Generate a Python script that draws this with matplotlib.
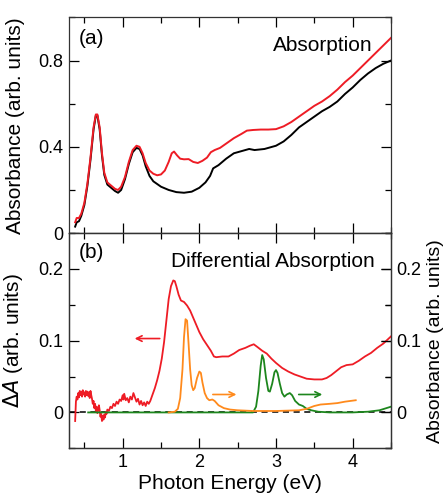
import matplotlib
matplotlib.use("Agg")
import matplotlib.pyplot as plt
from matplotlib.ticker import MultipleLocator

plt.rcParams['font.family'] = ['Liberation Sans', 'DejaVu Sans']

# (a) absorption spectra
abs_black_x = [0.38, 0.40, 0.43, 0.46, 0.50, 0.54, 0.58, 0.62, 0.65, 0.67, 0.70, 0.73, 0.76, 0.80, 0.85,
               0.90, 0.94, 0.98, 1.03, 1.08, 1.13, 1.18, 1.22, 1.26, 1.30, 1.35, 1.40, 1.50, 1.60, 1.70,
               1.80, 1.90, 2.00, 2.08, 2.14, 2.18, 2.25, 2.35, 2.45, 2.55, 2.65, 2.72, 2.85, 3.00, 3.10,
               3.20, 3.30, 3.40, 3.50, 3.60, 3.70, 3.80, 3.90, 4.00, 4.10, 4.20, 4.30, 4.40, 4.50]
abs_black_y = [0.03, 0.05, 0.055, 0.08, 0.13, 0.22, 0.34, 0.48, 0.545, 0.545, 0.48, 0.36, 0.27, 0.225, 0.21,
               0.195, 0.187, 0.20, 0.25, 0.32, 0.375, 0.395, 0.39, 0.36, 0.31, 0.265, 0.24, 0.215, 0.20, 0.19,
               0.187, 0.192, 0.21, 0.235, 0.265, 0.30, 0.315, 0.345, 0.37, 0.38, 0.39, 0.385, 0.39, 0.405, 0.425,
               0.455, 0.49, 0.515, 0.54, 0.565, 0.585, 0.61, 0.645, 0.675, 0.71, 0.74, 0.765, 0.785, 0.80]

abs_red_x = [0.38, 0.40, 0.43, 0.46, 0.50, 0.54, 0.58, 0.62, 0.65, 0.67, 0.70, 0.73, 0.76, 0.80, 0.85,
             0.90, 0.94, 0.98, 1.03, 1.08, 1.13, 1.18, 1.22, 1.26, 1.30, 1.35, 1.40, 1.45, 1.50, 1.55,
             1.60, 1.64, 1.67, 1.71, 1.75, 1.80, 1.86, 1.92, 1.98, 2.04, 2.10, 2.15, 2.20, 2.27, 2.35,
             2.45, 2.55, 2.62, 2.70, 2.80, 2.90, 3.00, 3.10, 3.20, 3.30, 3.40, 3.50, 3.60, 3.70, 3.80,
             3.90, 4.00, 4.10, 4.20, 4.30, 4.40, 4.50]
abs_red_y = [0.05, 0.07, 0.07, 0.09, 0.14, 0.23, 0.35, 0.49, 0.55, 0.55, 0.49, 0.37, 0.28, 0.235, 0.22,
             0.205, 0.20, 0.215, 0.26, 0.33, 0.385, 0.405, 0.40, 0.37, 0.325, 0.29, 0.275, 0.268, 0.272, 0.29,
             0.33, 0.37, 0.378, 0.36, 0.345, 0.342, 0.343, 0.33, 0.325, 0.335, 0.35, 0.375, 0.385, 0.395, 0.415,
             0.44, 0.46, 0.475, 0.478, 0.48, 0.48, 0.482, 0.495, 0.515, 0.54, 0.565, 0.59, 0.61, 0.635, 0.665,
             0.70, 0.73, 0.765, 0.80, 0.835, 0.87, 0.905]

# (b) differential absorption (left axis)
dA_x = [0.38, 0.39, 0.40, 0.41, 0.42, 0.43, 0.44, 0.45, 0.46, 0.47, 0.48, 0.49, 0.50, 0.51, 0.52,
        0.53, 0.54, 0.55, 0.56, 0.57, 0.58, 0.59, 0.60, 0.61, 0.62, 0.63, 0.64, 0.65, 0.66, 0.67,
        0.68, 0.69, 0.70, 0.71, 0.72, 0.73, 0.74, 0.75, 0.76, 0.77, 0.78, 0.79, 0.80, 0.82, 0.84,
        0.86, 0.88, 0.90, 0.92, 0.94, 0.96, 0.98, 1.00, 1.01, 1.02, 1.04, 1.06, 1.08, 1.10, 1.12,
        1.14, 1.16, 1.18, 1.20, 1.22, 1.24, 1.26, 1.28, 1.30, 1.32, 1.34, 1.36, 1.38, 1.40, 1.42,
        1.45, 1.48, 1.51, 1.54, 1.57, 1.60, 1.63, 1.66, 1.68, 1.70, 1.73, 1.76, 1.80, 1.84, 1.88,
        1.92, 1.96, 2.00, 2.05, 2.10, 2.15, 2.19, 2.22, 2.30, 2.38, 2.45, 2.52, 2.60, 2.66, 2.71,
        2.76, 2.82, 2.88, 2.94, 3.00, 3.08, 3.16, 3.24, 3.32, 3.40, 3.50, 3.60, 3.66, 3.72, 3.78,
        3.85, 3.92, 4.00, 4.08, 4.16, 4.24, 4.32, 4.40, 4.50]
dA_y = [-0.012, 0.015, 0.022, 0.018, 0.027, 0.021, 0.030, 0.024, 0.029, 0.022, 0.031, 0.025, 0.028, 0.022, 0.030,
        0.024, 0.029, 0.023, 0.028, 0.020, 0.030, 0.024, 0.019, 0.012, 0.016, 0.006, 0.012, 0.002, 0.008, -0.001,
        0.004, 0.010, 0.003, -0.006, -0.002, -0.012, -0.005, -0.010, -0.003, -0.007, 0.001, -0.002, 0.004, 0.002, 0.008,
        0.006, 0.012, 0.009, 0.015, 0.012, 0.018, 0.016, 0.024, 0.018, 0.026, 0.017, 0.020, 0.014, 0.022, 0.018,
        0.027, 0.021, 0.015, 0.019, 0.011, 0.016, 0.010, 0.014, 0.009, 0.015, 0.012, 0.016, 0.022, 0.028, 0.034,
        0.045, 0.058, 0.075, 0.098, 0.128, 0.158, 0.176, 0.184, 0.183, 0.176, 0.164, 0.156, 0.154, 0.149, 0.142,
        0.132, 0.122, 0.112, 0.102, 0.094, 0.086, 0.078, 0.077, 0.078, 0.078, 0.082, 0.087, 0.090, 0.093, 0.095,
        0.091, 0.086, 0.082, 0.075, 0.069, 0.062, 0.057, 0.053, 0.050, 0.047, 0.046, 0.046, 0.048, 0.052, 0.057,
        0.063, 0.066, 0.067, 0.072, 0.078, 0.083, 0.090, 0.096, 0.106]

# (b) absorbance of reference samples (right axis)
orange_x = [1.60, 1.68, 1.72, 1.75, 1.78, 1.80, 1.82, 1.84, 1.86, 1.88, 1.90, 1.92, 1.94, 1.97, 2.00,
            2.02, 2.04, 2.07, 2.10, 2.13, 2.17, 2.20, 2.25, 2.32, 2.40, 2.50, 2.70, 3.00, 3.30, 3.40,
            3.50, 3.58, 3.70, 3.80, 3.90, 4.04]
orange_y = [0.0, 0.001, 0.005, 0.020, 0.060, 0.105, 0.130, 0.128, 0.095, 0.060, 0.038, 0.031, 0.034, 0.048, 0.057,
            0.055, 0.042, 0.027, 0.020, 0.017, 0.018, 0.016, 0.010, 0.006, 0.004, 0.003, 0.002, 0.002, 0.003, 0.005,
            0.009, 0.011, 0.012, 0.013, 0.015, 0.017]

green_x = [0.55, 2.70, 2.74, 2.77, 2.80, 2.82, 2.84, 2.87, 2.90, 2.92, 2.95, 2.98, 3.00, 3.02, 3.05,
           3.08, 3.11, 3.14, 3.18, 3.21, 3.25, 3.30, 3.35, 3.40, 3.46, 3.55, 3.70, 4.00, 4.20, 4.35, 4.50]
green_y = [0.0, 0.0, 0.008, 0.030, 0.065, 0.080, 0.074, 0.048, 0.030, 0.029, 0.040, 0.056, 0.059, 0.055, 0.040,
           0.027, 0.022, 0.025, 0.027, 0.024, 0.016, 0.011, 0.009, 0.005, 0.003, 0.001, 0.0, 0.0, 0.001, 0.003, 0.008]

red = '#ee1c25'
orange = '#ff8a1c'
green = '#1d861d'

fig = plt.figure(figsize=(4.47, 4.97), dpi=100)
ax1 = fig.add_axes([0.1544, 0.531, 0.7203, 0.434])
ax2 = fig.add_axes([0.1544, 0.098, 0.7203, 0.433])
ax3 = ax2.twinx()

ax1.plot(abs_black_x, abs_black_y, color='black', lw=1.4)
ax1.plot(abs_red_x, abs_red_y, color=red, lw=1.4)

ax2.axhline(0, color='black', lw=1.1, ls=(0, (4, 3)), zorder=1)
ax2.plot(dA_x, dA_y, color=red, lw=1.3, zorder=3)
ax3.plot(green_x, green_y, color=green, lw=1.3)
ax3.plot(orange_x, orange_y, color=orange, lw=1.3)

# arrows pointing to the axis of each curve
ax2.annotate('', xy=(1.12, 0.103), xytext=(1.52, 0.103),
             arrowprops=dict(arrowstyle='->', color=red, lw=1.2))
ax3.annotate('', xy=(2.52, 0.025), xytext=(2.14, 0.025),
             arrowprops=dict(arrowstyle='->', color=orange, lw=1.2))
ax3.annotate('', xy=(3.64, 0.025), xytext=(3.26, 0.025),
             arrowprops=dict(arrowstyle='->', color=green, lw=1.2))

for ax in (ax1, ax2, ax3):
    ax.set_xlim(0.3, 4.5)
    ax.xaxis.set_major_locator(MultipleLocator(1))
    ax.xaxis.set_minor_locator(MultipleLocator(0.5))

ax1.set_ylim(0, 1.0)
ax1.set_yticks([0, 0.4, 0.8])
ax1.set_yticklabels(['0', '0.4', '0.8'])
ax1.yaxis.set_minor_locator(MultipleLocator(0.2))
ax1.tick_params(axis='x', labelbottom=False)

ax2.set_ylim(-0.05, 0.25)
ax3.set_ylim(-0.05, 0.25)
for ax in (ax2, ax3):
    ax.set_yticks([0, 0.1, 0.2])
    ax.set_yticklabels(['0', '0.1', '0.2'])
    ax.yaxis.set_minor_locator(MultipleLocator(0.05))
ax2.set_xticks([1, 2, 3, 4])
ax2.set_xticklabels(['1', '2', '3', '4'])

for ax in (ax1, ax2):
    ax.tick_params(which='both', direction='in', top=True, right=True, labelsize=13, pad=4)
    ax.tick_params(which='major', length=7.5, width=0.9)
    ax.tick_params(which='minor', length=4.5, width=0.9)
ax3.tick_params(which='both', direction='in', labelsize=13, pad=4)
ax3.tick_params(which='major', length=7.5, width=0.9)
ax3.tick_params(which='minor', length=4.5, width=0.9)

for ax in (ax1, ax2, ax3):
    for s in ax.spines.values():
        s.set_linewidth(0.9)
        s.set_color('#333333')

ax1.set_ylabel('Absorbance (arb. units)', fontsize=15)
ax2.set_ylabel(r'$\Delta$$\mathit{A}$ (arb. units)', fontsize=15)
ax3.set_ylabel('Absorbance (arb. units)', fontsize=14)
ax2.set_xlabel('Photon Energy (eV)', fontsize=15, labelpad=2)
ax1.yaxis.set_label_coords(-0.137, 0.5)
ax2.yaxis.set_label_coords(-0.137, 0.5)
ax3.yaxis.set_label_coords(1.112, 0.5)

ax1.text(0.03, 0.90, '(a)', transform=ax1.transAxes, fontsize=15, va='center')
ax1.text(0.944, 0.87, 'Absorption', transform=ax1.transAxes, fontsize=15, va='center', ha='right')
ax2.text(0.03, 0.91, '(b)', transform=ax2.transAxes, fontsize=15, va='center')
ax2.text(0.95, 0.87, 'Differential Absorption', transform=ax2.transAxes, fontsize=15, va='center', ha='right')

fig.savefig('out.png', dpi=100)
